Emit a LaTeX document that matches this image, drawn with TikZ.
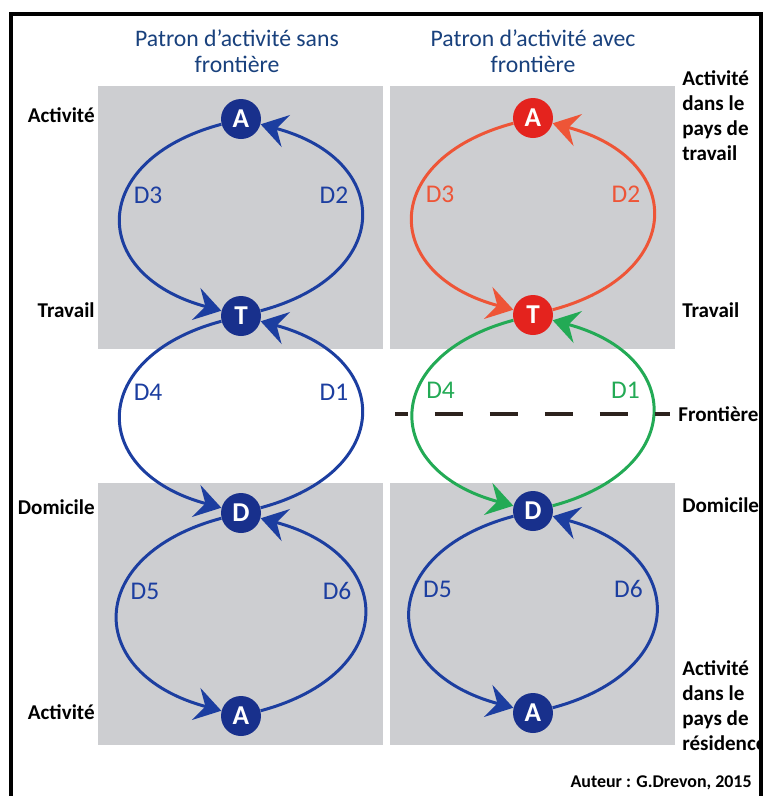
\documentclass[tikz,border=0pt]{standalone}
\usepackage{fontspec}
\setmainfont{Carlito}
\usetikzlibrary{arrows.meta,positioning}
\definecolor{loopblue}{RGB}{28,62,160}
\definecolor{nodeblue}{RGB}{24,48,140}
\definecolor{titleblue}{RGB}{25,65,125}
\definecolor{loopred}{RGB}{238,85,55}
\definecolor{nodered}{RGB}{228,35,30}
\definecolor{loopgreen}{RGB}{35,170,85}
\definecolor{boxgray}{RGB}{205,206,209}
\definecolor{borderdark}{RGB}{45,35,30}

\begin{document}
\begin{tikzpicture}[
    x=0.02cm, y=-0.02cm,
    spot/.style={circle, fill=#1, minimum size=0.8cm, inner sep=0pt, text=white, font=\fontsize{15.5}{16}\selectfont\bfseries},
    leg/.style={font=\fontsize{14.5}{15}\selectfont, inner sep=0.14cm},
    trip/.style={draw=#1, text=#1, line width=1.7pt, -{Stealth[length=0.52cm, width=0.66cm, inset=0.19cm]}},
    down/.style={out=195, in=165, looseness=1.9},
    up/.style={out=15, in=-15, looseness=1.9},
    side/.style={font=\fontsize{12}{14.2}\selectfont\bfseries, align=left, inner sep=0pt},
    head/.style={font=\fontsize{13.5}{14.8}\selectfont, text=titleblue, align=center},
    zone/.style={fill=boxgray},
    frontier/.style={draw=borderdark, line width=0.08cm, dash pattern=on 0.56cm off 0.54cm, dash phase=0.3cm}
]
\fill[white] (0,0) rectangle (763,796);
\useasboundingbox (0,0) rectangle (763,796);

% Grey zones (work country above, home country below)
\fill[zone] (98,86) rectangle (383,349);
\fill[zone] (390,86) rectangle (675,349);
\fill[zone] (98,483) rectangle (383,745);
\fill[zone] (390,483) rectangle (675,745);

% Titles
\node[head] (ttlL) at (237,51) {Patron d’activité sans\\frontière};
\node[head] (ttlR) at (533,51) {Patron d’activité avec\\frontière};

% Left column: no border
\node[spot=nodeblue] (atopL) at (241,119) {A};
\node[spot=nodeblue] (travL) at (241,316) {T};
\node[spot=nodeblue] (domL)  at (241,513) {D};
\node[spot=nodeblue] (abotL) at (241,716) {A};

\draw[trip=loopblue] (atopL) to[down] node[leg, pos=0.4, anchor=west] {D3} (travL);
\draw[trip=loopblue] (travL) to[up] node[leg, pos=0.6, anchor=east] {D2} (atopL);
\draw[trip=loopblue] (travL) to[down] node[leg, pos=0.4, anchor=west] {D4} (domL);
\draw[trip=loopblue] (domL) to[up] node[leg, pos=0.6, anchor=east] {D1} (travL);
\draw[trip=loopblue] (domL) to[down] node[leg, pos=0.4, anchor=west] {D5} (abotL);
\draw[trip=loopblue] (abotL) to[up] node[leg, pos=0.6, anchor=east] {D6} (domL);

% Right column: with border
\node[spot=nodered]  (atopR) at (533,118) {A};
\node[spot=nodered]  (travR) at (533,315) {T};
\node[spot=nodeblue] (domR)  at (533,511) {D};
\node[spot=nodeblue] (abotR) at (533,713) {A};

\draw[trip=loopred] (atopR) to[down] node[leg, pos=0.4, anchor=west] {D3} (travR);
\draw[trip=loopred] (travR) to[up] node[leg, pos=0.6, anchor=east] {D2} (atopR);
\draw[trip=loopgreen] (travR) to[down] node[leg, pos=0.4, anchor=west] {D4} (domR);
\draw[trip=loopgreen] (domR) to[up] node[leg, pos=0.6, anchor=east] {D1} (travR);
\draw[trip=loopblue] (domR) to[down] node[leg, pos=0.4, anchor=west] {D5} (abotR);
\draw[trip=loopblue] (abotR) to[up] node[leg, pos=0.6, anchor=east] {D6} (domR);

% Border line
\coordinate (fw) at (395,414);
\coordinate (fe) at (670,414);
\draw[frontier] (fw) -- (fe);
\node[side, anchor=west] (fron) at (678,414) {Frontière};

% Side labels
\node[side, anchor=east] (lActTop) at (95,115) {Activité};
\node[side, anchor=east] (lTrav)   at (95,310) {Travail};
\node[side, anchor=east] (lDom)    at (95,507) {Domicile};
\node[side, anchor=east] (lActBot) at (95,712) {Activité};

\node[side, anchor=north west] (rActTop) at (682,70) {Activité\\dans le\\pays de\\travail};
\node[side, anchor=west] (rTrav) at (682,310) {Travail};
\node[side, anchor=west] (rDom)  at (682,505) {Domicile};
\node[side, anchor=north west] (rActBot) at (682,660) {Activité\\dans le\\pays de\\résidence};

\node[anchor=east, inner sep=0pt, font=\fontsize{10.2}{12}\selectfont\bfseries] (auteur) at (752,783) {Auteur : G.Drevon, 2015};

% Frame
\draw[line width=0.07cm] (11,800) -- (11,14) -- (761,14) -- (761,800);
\end{tikzpicture}
\end{document}
